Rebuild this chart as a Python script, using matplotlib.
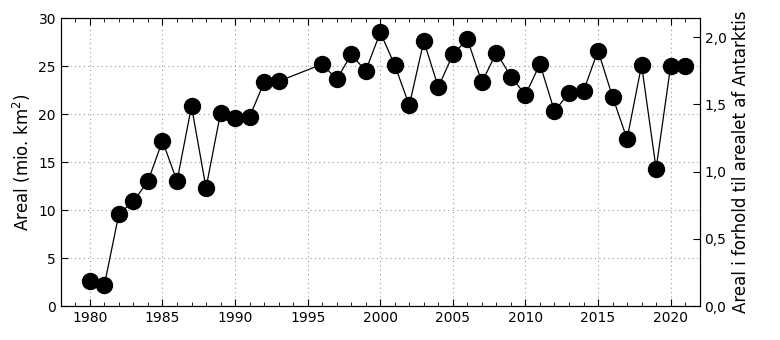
import numpy as np
import matplotlib.pyplot as plt
from matplotlib.ticker import MultipleLocator, FuncFormatter

years = [1980, 1981, 1982, 1983, 1984, 1985, 1986, 1987, 1988, 1989, 1990,
         1991, 1992, 1993, 1996, 1997, 1998, 1999, 2000, 2001, 2002, 2003,
         2004, 2005, 2006, 2007, 2008, 2009, 2010, 2011, 2012, 2013, 2014,
         2015, 2016, 2017, 2018, 2019, 2020, 2021]
area = [2.6, 2.2, 9.6, 10.9, 13.0, 17.2, 13.0, 20.8, 12.3, 20.1, 19.6,
        19.7, 23.3, 23.4, 25.2, 23.6, 26.2, 24.5, 28.5, 25.1, 20.9, 27.6,
        22.8, 26.2, 27.8, 23.3, 26.4, 23.9, 22.0, 25.2, 20.3, 22.2, 22.4,
        26.6, 21.8, 17.4, 25.1, 14.3, 25.0, 25.0]
antarctica = 14.0  # mio. km2

plt.rcParams['font.family'] = 'DejaVu Sans'
fig, ax = plt.subplots(figsize=(7.8, 3.4), dpi=100)
fig.subplots_adjust(left=0.078, right=0.897, bottom=0.1, top=0.947)

ax.plot(years, area, color='black', lw=0.9, marker='o', ms=11.5, zorder=3)
ax.set_xlim(1978, 2022)
ax.set_ylim(0, 30)
ax.xaxis.set_major_locator(MultipleLocator(5))
ax.xaxis.set_minor_locator(MultipleLocator(1))
ax.yaxis.set_major_locator(MultipleLocator(5))
ax.tick_params(which='both', direction='in', top=True, right=True, labelsize=10)
ax.tick_params(which='major', length=5)
ax.tick_params(which='minor', length=3)
ax.grid(True, which='major', color='#999999', ls=(0, (1, 3)), lw=0.8)
ax.set_ylabel('Areal (mio. km$^2$)', fontsize=12)

ax2 = ax.twinx()
ax2.set_ylim(0, 30 / antarctica)
ax2.yaxis.set_major_locator(MultipleLocator(0.5))
ax2.yaxis.set_major_formatter(FuncFormatter(lambda v, p: f'{v:.1f}'.replace('.', ',')))
ax2.tick_params(direction='in', length=5, labelsize=10)
ax2.set_ylabel('Areal i forhold til arealet af Antarktis', fontsize=12)

fig.savefig('out.png')
